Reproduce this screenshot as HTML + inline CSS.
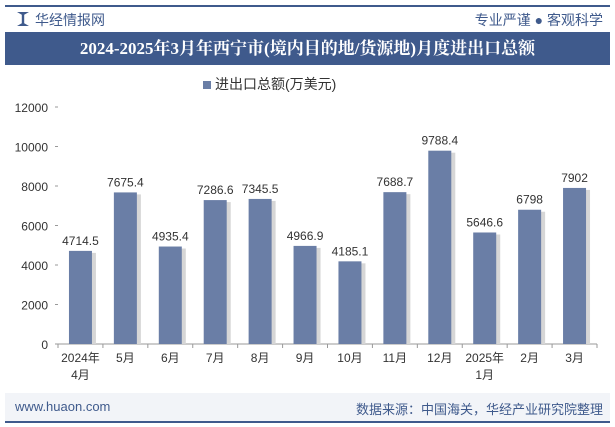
<!DOCTYPE html>
<html><head><meta charset="utf-8">
<style>
body{margin:0;width:615px;height:427px;background:#fff;overflow:hidden;font-family:"Liberation Sans","Noto Sans CJK SC",sans-serif;position:relative}
.abs{position:absolute}
</style></head><body>
<div class="abs" style="left:5px;top:5px;width:605px;height:2px;background:#3f5a8c"></div>
<div class="abs" style="left:17px;top:12px;width:12px;height:14px;background:#3f5a8c;clip-path:polygon(0 0,40% 20%,40% 80%,0 100%,100% 100%,60% 80%,60% 20%,100% 0)"></div>
<div class="abs" style="left:35px;top:10px;font-size:14px;color:#3f5a8c">华经情报网</div>
<div class="abs" style="right:12px;top:10px;font-size:14px;color:#3f5a8c">专业严谨 ● 客观科学</div>
<div class="abs" style="left:5px;top:32px;width:605px;height:33px;background:#3f5a8c;color:#fff;font-family:'Liberation Serif','Noto Serif CJK SC',serif;font-weight:bold;font-size:17px;line-height:33px;text-align:center">2024-2025年3月年西宁市(境内目的地/货源地)月度进出口总额</div>
<div class="abs" style="left:203px;top:74px;font-size:14px;color:#333"><span style="display:inline-block;width:8px;height:8px;background:#6a7ea6;margin-right:4px"></span>进出口总额(万美元)</div>
<svg class="abs" style="left:0;top:0" width="615" height="427" id="chart"></svg>
<div class="abs" style="left:5px;top:393px;width:605px;height:28px;background:#f2f4f8"></div>
<div class="abs" style="left:5px;top:421px;width:605px;height:2px;background:#3f5a8c"></div>
<div class="abs" style="left:15px;top:399px;font-size:13px;color:#3f5a8c">www.huaon.com</div>
<div class="abs" style="right:12px;top:399px;font-size:13px;color:#3f5a8c">数据来源：中国海关，华经产业研究院整理</div>
<script>
const categories=["2024年\n4月","5月","6月","7月","8月","9月","10月","11月","12月","2025年\n1月","2月","3月"];
const values=[4714.5,7675.4,4935.4,7286.6,7345.5,4966.9,4185.1,7688.7,9788.4,5646.6,6798,7902];
const labels=["4714.5","7675.4","4935.4","7286.6","7345.5","4966.9","4185.1","7688.7","9788.4","5646.6","6798","7902"];
const yTicks=[0,2000,4000,6000,8000,10000,12000];
const svg=document.getElementById('chart');const NS='http://www.w3.org/2000/svg';
const x0=58,x1=597,yb=344,yt=107,ymax=12000;
const y=v=>yb-(v/ymax)*(yb-yt);
const bw=(x1-x0)/categories.length;
const xc=i=>x0+bw*(i+0.5);
function mk(t,a,txt){const e=document.createElementNS(NS,t);for(const k in a)e.setAttribute(k,a[k]);if(txt!=null)e.textContent=txt;svg.appendChild(e);return e;}
const ax=mk('line',{x1:x0,y1:yb,x2:x1,y2:yb,stroke:'#999'});


yTicks.forEach(t=>{const tl=mk('text',{x:48,y:y(t)+5,'text-anchor':'end','font-size':12,fill:'#333'},t);


mk('line',{x1:x0-3,y1:y(t),x2:x0,y2:y(t),stroke:'#999'});});
for(let i=0;i<=categories.length;i++)mk('line',{x1:x0+bw*i,y1:yb,x2:x0+bw*i,y2:yb+4,stroke:'#999'});
values.forEach((v,i)=>{const w=23;
mk('rect',{x:xc(i)-w/2+2,y:y(v)+2,width:w+2,height:yb-y(v)-2,fill:'#d6d6d6'});
const r=mk('rect',{x:xc(i)-w/2,y:y(v),width:w,height:yb-y(v),fill:'#6a7ea6'});


const l=mk('text',{x:xc(i),y:y(v)-6,'text-anchor':'middle','font-size':12,fill:'#333'},labels[i]);


categories[i].split('\n').forEach((s,j)=>{const c=mk('text',{x:xc(i),y:yb+18+j*17,'text-anchor':'middle','font-size':12,fill:'#333'},s);

});});
</script>
</body></html>
